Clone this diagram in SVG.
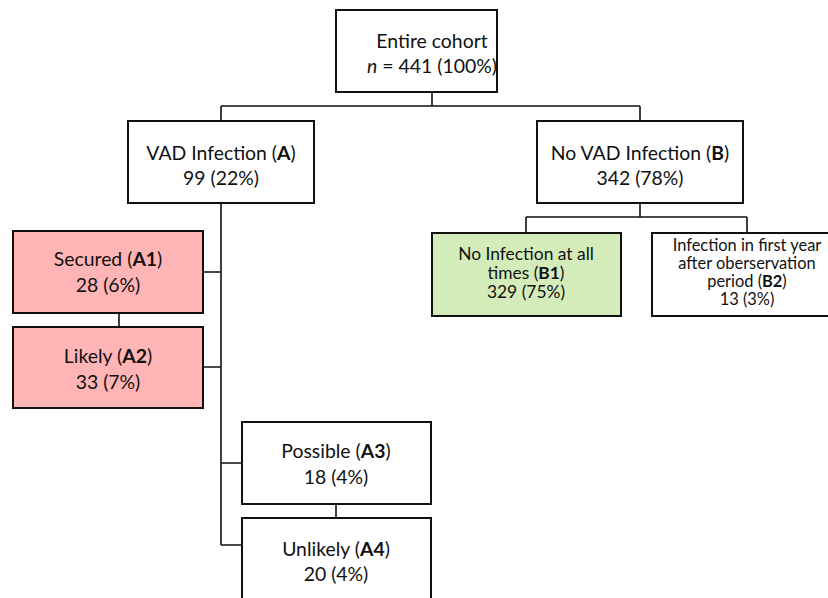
<svg xmlns="http://www.w3.org/2000/svg" width="828" height="598" viewBox="0 0 828 598">
<style>
.box{stroke:#111;stroke-width:2;fill:#fff}
.red{fill:#ffb5b5}
.green{fill:#d4ecb9}
.ln{stroke:#111;stroke-width:1.6;fill:none}
text{font-family:Lato,"Open Sans","Liberation Sans",sans-serif;fill:#111;text-anchor:middle}
.t{font-size:19.4px}
.s{font-size:17.4px}
.x{font-size:16.4px}
.b{font-weight:bold}
</style>
<rect width="828" height="598" fill="#fff"/>
<g id="connectors">
<path class="ln" d="M432 92V106M221 106H640M221 106V121M640 106V121"/>
<path class="ln" d="M640 203V217M526 217H747M526 217V233M747 217V233"/>
<path class="ln" d="M221 203V545M203 272H221M203 367H221M119 313V327"/>
<path class="ln" d="M221 463H242M221 545H242M336 504V518"/>
</g>
<g id="root"><rect class="box" x="336" y="10" width="161" height="82"/>
<text class="t" x="432" y="48">Entire cohort</text>
<text class="t" x="432" y="73"><tspan font-style="italic">n</tspan> = 441 (100%)</text></g>
<g id="A"><rect class="box" x="128" y="121" width="186" height="82"/>
<text class="t" x="221" y="160">VAD Infection (<tspan class="b">A</tspan>)</text>
<text class="t" x="221" y="185">99 (22%)</text></g>
<g id="B"><rect class="box" x="537" y="121" width="206" height="82"/>
<text class="t" x="640" y="160">No VAD Infection (<tspan class="b">B</tspan>)</text>
<text class="t" x="640" y="185">342 (78%)</text></g>
<g id="B1"><rect class="box green" x="432" y="233" width="189" height="83"/>
<text class="s" x="526" y="260">No Infection at all</text>
<text class="s" x="526" y="279">times (<tspan class="b">B1</tspan>)</text>
<text class="s" x="526" y="298">329 (75%)</text></g>
<g id="B2"><rect class="box" x="652" y="233" width="190" height="83"/>
<text class="x" x="747" y="251">Infection in first year</text>
<text class="x" x="747" y="269">after oberservation</text>
<text class="x" x="747" y="287">period (<tspan class="b">B2</tspan>)</text>
<text class="x" x="747" y="305">13 (3%)</text></g>
<g id="A1"><rect class="box red" x="13" y="231" width="190" height="82"/>
<text class="t" x="108" y="266">Secured (<tspan class="b">A1</tspan>)</text>
<text class="t" x="108" y="292">28 (6%)</text></g>
<g id="A2"><rect class="box red" x="13" y="327" width="190" height="81"/>
<text class="t" x="108" y="363">Likely (<tspan class="b">A2</tspan>)</text>
<text class="t" x="108" y="389">33 (7%)</text></g>
<g id="A3"><rect class="box" x="242" y="422" width="189" height="82"/>
<text class="t" x="336" y="458">Possible (<tspan class="b">A3</tspan>)</text>
<text class="t" x="336" y="484">18 (4%)</text></g>
<g id="A4"><rect class="box" x="242" y="518" width="189" height="84"/>
<text class="t" x="336" y="556">Unlikely (<tspan class="b">A4</tspan>)</text>
<text class="t" x="336" y="581">20 (4%)</text></g>
</svg>
